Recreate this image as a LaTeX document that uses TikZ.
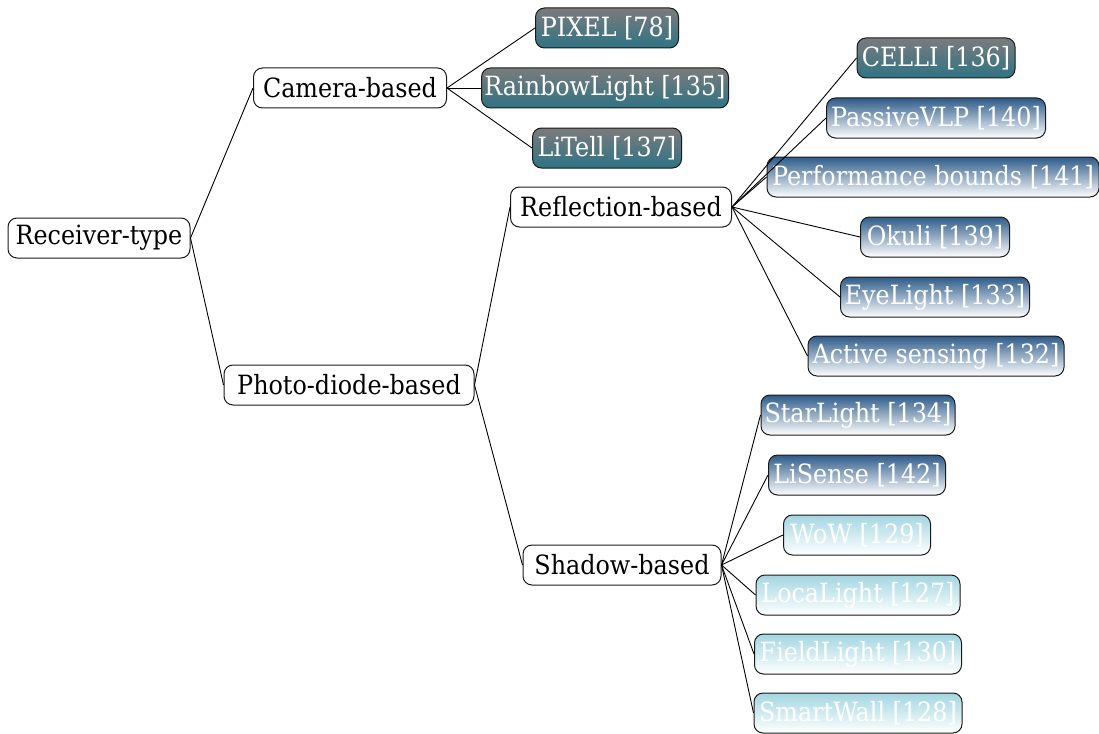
\documentclass[tikz,border=0pt]{standalone}
\usepackage{fontspec}
\setmainfont[FakeStretch=0.9]{DejaVu Serif}
\usetikzlibrary{shapes.misc}
\definecolor{camtop}{HTML}{7B7B7B}
\definecolor{cambot}{HTML}{2F7385}
\definecolor{bluetop}{HTML}{2E5B89}
\definecolor{lighttop}{HTML}{A3D6E2}
\tikzset{
  box/.style={draw=black!90, rounded corners=9pt, line width=1pt,
    minimum height=40pt, inner sep=0pt, font=\fontsize{26.5}{30}\selectfont},
  plain/.style={box, fill=white, text=black},
  cam/.style={box, top color=camtop, bottom color=cambot, text=white},
  blu/.style={box, top color=bluetop, bottom color=white, text=white},
  lit/.style={box, top color=lighttop, bottom color=white, text=white},
  w/.style={minimum width=#1pt},
  link/.style={draw=black, line width=0.9pt}
}
\begin{document}
\begin{tikzpicture}[x=1pt,y=-1pt]
\useasboundingbox (0,0) rectangle (1099,733);
% level 0 and 1
\node[plain,w=182] (root) at (99,238) {Receiver-type};
\node[plain,w=193] (cam) at (350,88) {Camera-based};
\node[plain,w=250] (pd) at (349,385) {Photo-diode-based};
% level 2
\node[plain,w=221] (refl) at (621,207) {Reflection-based};
\node[plain,w=198] (shad) at (622,565) {Shadow-based};
% camera-based systems
\node[cam,w=143] (pixel) at (607,28) {PIXEL [78]};
\node[cam,w=247] (rainbow) at (605,88) {RainbowLight [135]};
\node[cam,w=149] (litell) at (607,148) {LiTell [137]};
% reflection-based systems
\node[cam,w=158] (celli) at (936,58) {CELLI [136]};
\node[blu,w=219] (passive) at (936,118) {PassiveVLP [140]};
\node[blu,w=332] (perf) at (933,177) {Performance bounds [141]};
\node[blu,w=149] (okuli) at (935,237) {Okuli [139]};
\node[blu,w=189] (eye) at (935,297) {EyeLight [133]};
\node[blu,w=256] (active) at (936,356) {Active sensing [132]};
% shadow-based systems
\node[blu,w=194] (star) at (858,415) {StarLight [134]};
\node[blu,w=177] (lisense) at (857,475) {LiSense [142]};
\node[lit,w=147] (wow) at (857,535) {WoW [129]};
\node[lit,w=204] (loca) at (858,595) {LocaLight [127]};
\node[lit,w=207] (field) at (858,654) {FieldLight [130]};
\node[lit,w=208] (smart) at (858,713) {SmartWall [128]};
% connectors
\foreach \a/\b in {root/cam, root/pd, cam/pixel, cam/rainbow, cam/litell,
  pd/refl, pd/shad, refl/celli, refl/passive, refl/perf, refl/okuli,
  refl/eye, refl/active, shad/star, shad/lisense, shad/wow, shad/loca,
  shad/field, shad/smart}
  \draw[link] (\a.east) -- (\b.west);
\end{tikzpicture}
\end{document}
